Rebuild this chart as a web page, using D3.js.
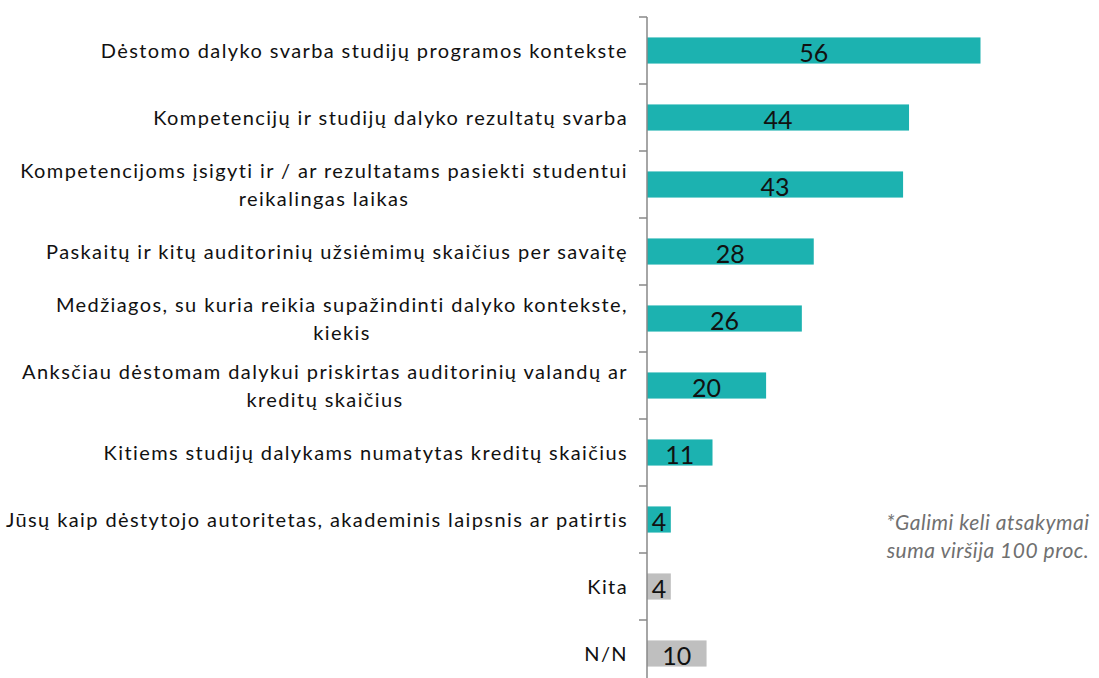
<!DOCTYPE html>
<html>
<head>
<meta charset="utf-8">
<script src="https://cdnjs.cloudflare.com/ajax/libs/d3/7.8.5/d3.min.js"></script>
<style>
  body { margin: 0; background: #fff; }
  svg { display: block; font-family: Lato, "Open Sans", sans-serif; }
</style>
</head>
<body>
<div id="chart"></div>
<script>
// data
const categories = [
  ["Dėstomo dalyko svarba studijų programos kontekste"],
  ["Kompetencijų ir studijų dalyko rezultatų svarba"],
  ["Kompetencijoms įsigyti ir / ar rezultatams pasiekti studentui", "reikalingas laikas"],
  ["Paskaitų ir kitų auditorinių užsiėmimų skaičius per savaitę"],
  ["Medžiagos, su kuria reikia supažindinti dalyko kontekste,", "kiekis"],
  ["Anksčiau dėstomam dalykui priskirtas auditorinių valandų ar", "kreditų skaičius"],
  ["Kitiems studijų dalykams numatytas kreditų skaičius"],
  ["Jūsų kaip dėstytojo autoritetas, akademinis laipsnis ar patirtis"],
  ["Kita"],
  ["N/N"]
];
const values = [56, 44, 43, 28, 26, 20, 11, 4, 4, 10];
const isOther = [false, false, false, false, false, false, false, false, true, true];
const footnote = ["*Galimi keli atsakymai", "suma viršija 100 proc."];

const width = 1099, height = 678;
const axisX = 647;

const svg = d3.select("#chart").append("svg")
    .attr("width", width)
    .attr("height", height);

// scales
const ids = d3.range(categories.length);
const y = d3.scaleBand()
    .domain(ids)
    .range([17, 687])
    .paddingInner(0.61)
    .paddingOuter(0.305);
const x = d3.scaleLinear()
    .domain([0, 56])
    .range([axisX, 980.5]);

const step = y.step();
const gap = (step - y.bandwidth()) / 2;

// bars
svg.selectAll("rect.bar")
    .data(ids)
    .enter().append("rect")
    .attr("class", "bar")
    .attr("x", x(0))
    .attr("y", d => y(d))
    .attr("width", d => x(values[d]) - x(0))
    .attr("height", y.bandwidth())
    .attr("fill", d => isOther[d] ? "#bfbfbf" : "#1cb2b0");

// value labels
svg.selectAll("text.val")
    .data(ids)
    .enter().append("text")
    .attr("class", "val")
    .attr("x", d => (x(0) + x(values[d])) / 2)
    .attr("y", d => y(d) + y.bandwidth() - 1.5)
    .attr("text-anchor", "middle")
    .style("font-size", "25px")
    .style("fill", "#111")
    .text(d => values[d]);

// axis line with ticks at category boundaries
svg.append("line")
    .attr("x1", axisX).attr("x2", axisX)
    .attr("y1", y.range()[0]).attr("y2", height + 5)
    .attr("stroke", "#898989")
    .attr("stroke-width", 1.5);

svg.selectAll("line.tick")
    .data(ids)
    .enter().append("line")
    .attr("class", "tick")
    .attr("x1", axisX - 8).attr("x2", axisX)
    .attr("y1", d => y(d) - gap)
    .attr("y2", d => y(d) - gap)
    .attr("stroke", "#898989")
    .attr("stroke-width", 1.5);

// category labels: block right-aligned, lines centered inside block
const labelRight = 628, lineH = 28;
ids.forEach(d => {
  const lines = categories[d];
  const g = svg.append("g");
  const texts = lines.map((t, i) => g.append("text")
      .attr("y", y(d) + y.bandwidth() / 2 + (i - (lines.length - 1) / 2) * lineH)
      .attr("dy", "0.35em")
      .attr("text-anchor", "middle")
      .style("font-size", "20px")
      .style("letter-spacing", "1.4px")
      .style("fill", "#111")
      .text(t));
  const maxW = d3.max(texts, t => t.node().getComputedTextLength());
  texts.forEach(t => t.attr("x", labelRight - maxW / 2));
});

// footnote
svg.selectAll("text.note")
    .data(footnote)
    .enter().append("text")
    .attr("class", "note")
    .attr("x", 988)
    .attr("y", (d, i) => 530 + i * 28)
    .attr("text-anchor", "middle")
    .style("font-size", "21px")
    .style("font-style", "italic")
    .style("letter-spacing", "0.5px")
    .style("fill", "#707070")
    .text(d => d);
</script>
</body>
</html>
